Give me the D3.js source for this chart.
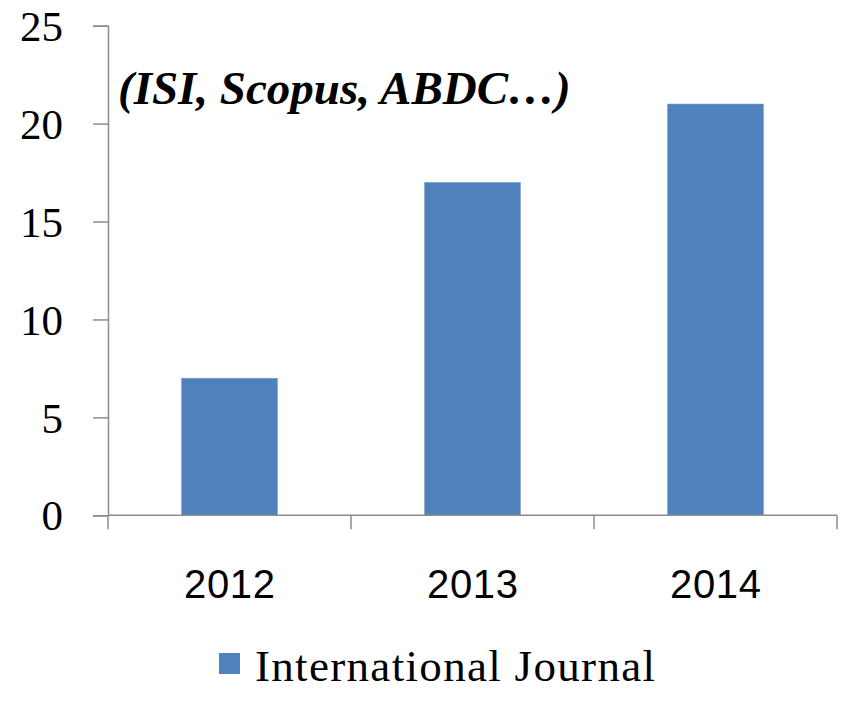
<!DOCTYPE html>
<html>
<head>
<meta charset="utf-8">
<script src="https://cdn.jsdelivr.net/npm/d3@7"></script>
<style>
html,body{margin:0;padding:0;background:#fff;}
svg{display:block;}
</style>
</head>
<body>
<svg id="chart" width="855" height="703"></svg>
<script>
const categories = ["2012", "2013", "2014"];
const values = [7, 17, 21];
const yTicks = [0, 5, 10, 15, 20, 25];
const seriesName = "International Journal";
const annotation = "(ISI, Scopus, ABDC\u2026)";

const svg = d3.select("#chart");
const axisColor = "#8c8c8c";
const barColor = "#4F81BD";

const x = d3.scaleBand().domain(categories).range([108, 837])
  .paddingInner(0.605).paddingOuter(0.3025);
const y = d3.scaleLinear().domain([0, 25]).range([515.3, 25.7]);

// bars
svg.append("g").selectAll("rect").data(values).join("rect")
  .attr("x", (d, i) => x(categories[i]))
  .attr("y", d => y(d))
  .attr("width", x.bandwidth())
  .attr("height", d => y(0) - y(d))
  .attr("fill", barColor)
  .attr("stroke", "#7fa3d0")
  .attr("stroke-width", 0.6);

// y axis
const yAxis = svg.append("g").attr("transform", "translate(108,0)")
  .call(d3.axisLeft(y).tickValues(yTicks).tickSize(15).tickPadding(30).tickFormat(d3.format("d")));
yAxis.select(".domain").attr("stroke", axisColor).attr("stroke-width", 1.5);
yAxis.selectAll(".tick line").attr("stroke", axisColor).attr("stroke-width", 1.5);
yAxis.selectAll(".tick text")
  .attr("font-family", "'Liberation Serif', 'Times New Roman', serif")
  .attr("font-size", 43).attr("fill", "#000")
  .attr("dy", "0.34em");

// x axis line + boundary ticks
const xg = svg.append("g");
xg.append("line").attr("x1", 108).attr("x2", 837).attr("y1", y(0)).attr("y2", y(0))
  .attr("stroke", axisColor).attr("stroke-width", 1.5);
const bounds = categories.map(c => x(c) - x.step() * x.paddingOuter()).concat([x.range()[1]]);
xg.selectAll("line.bt").data(bounds).join("line").attr("class", "bt")
  .attr("x1", d => d).attr("x2", d => d).attr("y1", y(0)).attr("y2", y(0) + 14)
  .attr("stroke", axisColor).attr("stroke-width", 1.5);

// x labels via axis
const xAxis = svg.append("g").attr("transform", `translate(0,${y(0)})`)
  .call(d3.axisBottom(x).tickSize(0).tickPadding(0));
xAxis.select(".domain").remove();
xAxis.selectAll(".tick text")
  .attr("font-family", "'Liberation Sans', Arial, sans-serif")
  .attr("font-size", 40).attr("fill", "#000")
  .attr("dy", null).attr("y", 83)
  .attr("textLength", 91).attr("lengthAdjust", "spacing");

// annotation
svg.append("text").attr("x", 118).attr("y", 104)
  .attr("font-family", "'Liberation Serif', 'Times New Roman', serif")
  .attr("font-size", 47).attr("font-weight", "bold").attr("font-style", "italic")
  .attr("fill", "#000").text(annotation);

// legend
const lg = svg.append("g");
lg.append("rect").attr("x", 219).attr("y", 653).attr("width", 21).attr("height", 21).attr("fill", barColor);
lg.append("text").attr("x", 255).attr("y", 681)
  .attr("font-family", "'Liberation Serif', 'Times New Roman', serif")
  .attr("font-size", 45).attr("fill", "#000")
  .attr("textLength", 400).attr("lengthAdjust", "spacing").text(seriesName);
</script>
</body>
</html>
